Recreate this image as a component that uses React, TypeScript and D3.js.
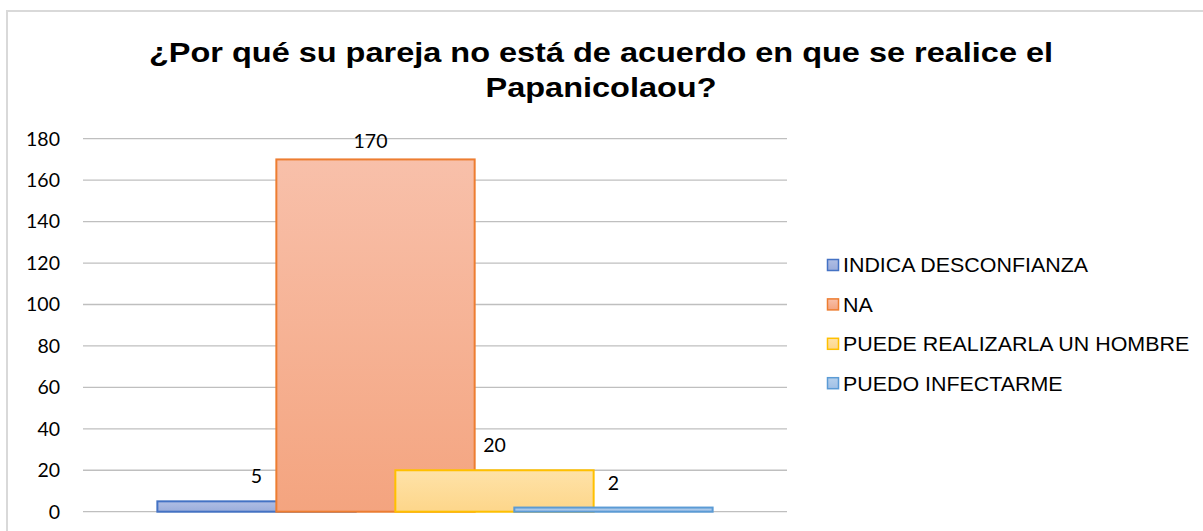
import * as d3 from "d3";
import React, { useEffect, useRef } from "react";

// chart values
const seriesNames: string[] = ["INDICA DESCONFIANZA", "NA", "PUEDE REALIZARLA UN HOMBRE", "PUEDO INFECTARME"];
const seriesValues: number[] = [5, 170, 20, 2];
const yTicks: number[] = [0, 20, 40, 60, 80, 100, 120, 140, 160, 180];
const strokeColors: string[] = ["#4472C4", "#ED7D31", "#FFC000", "#5B9BD5"];
const topColors: string[] = ["#b0bee4", "#f8c0aa", "#fee2a8", "#b6d0ec"];
const bottomColors: string[] = ["#9aacdb", "#f4a47f", "#fdd68a", "#a0c0e6"];
const titleLines: string[] = ["¿Por qué su pareja no está de acuerdo en que se realice el", "Papanicolaou?"];

const W = 1203, H = 531;

export default function App() {
    const ref = useRef<SVGSVGElement>(null);

    useEffect(() => {
        const svg = d3.select(ref.current);
        svg.selectAll("*").remove();

        // plot area
        const plot = { left: 83, right: 787, top: 138.7, bottom: 511.7 };

        const y = d3.scaleLinear().domain([0, 180]).range([plot.bottom, plot.top]);
        // one category, gap width 75%, overlap 40%
        const x = d3.scaleBand<string>().domain(["cat"]).range([plot.left, plot.right])
            .paddingInner(0).paddingOuter(0.375 / 2.8);
        const barW = x.bandwidth() / (1 + 0.6 * (seriesValues.length - 1));
        const barX = (i: number) => (x("cat") as number) + i * 0.6 * barW;

        const defs = svg.append("defs");
        seriesValues.forEach((_, i) => {
            const g = defs.append("linearGradient").attr("id", "grad" + i)
                .attr("x1", 0).attr("y1", 0).attr("x2", 0).attr("y2", 1);
            g.append("stop").attr("offset", "0%").attr("stop-color", topColors[i]);
            g.append("stop").attr("offset", "100%").attr("stop-color", bottomColors[i]);
        });

        // frame
        svg.append("rect")
            .attr("x", 7).attr("y", 11).attr("width", W + 10).attr("height", H + 10)
            .attr("fill", "white").attr("stroke", "#d9d9d9").attr("stroke-width", 2);

        // title (the source text is a bit wider than the font, so stretch it)
        svg.append("text")
            .attr("transform", "translate(601,0) scale(1.16,1)")
            .attr("text-anchor", "middle")
            .style("font-family", "'Liberation Sans', Arial, sans-serif")
            .style("font-weight", "bold")
            .style("font-size", "28px")
            .attr("fill", "#000")
            .selectAll("tspan")
            .data(titleLines)
            .enter()
            .append("tspan")
            .attr("x", 0)
            .attr("y", (d, i) => 61.7 + i * 35)
            .text(d => d);

        // gridlines
        svg.append("g")
            .selectAll("line")
            .data(yTicks)
            .enter()
            .append("line")
            .attr("x1", plot.left).attr("x2", plot.right)
            .attr("y1", d => y(d)).attr("y2", d => y(d))
            .attr("stroke", "#bfbfbf").attr("stroke-width", 1.3);

        // y tick labels
        svg.append("g")
            .selectAll("text")
            .data(yTicks)
            .enter()
            .append("text")
            .attr("x", 60)
            .attr("y", d => y(d))
            .attr("dy", "0.35em")
            .attr("text-anchor", "end")
            .style("font-family", "Lato, 'Open Sans', sans-serif")
            .style("font-size", "19.5px")
            .attr("fill", "#000")
            .text(d => d);

        // bars, later series on top
        svg.append("g")
            .selectAll("rect")
            .data(seriesValues)
            .enter()
            .append("rect")
            .attr("x", (d, i) => barX(i))
            .attr("y", d => y(d))
            .attr("width", barW)
            .attr("height", d => y(0) - y(d))
            .attr("fill", (d, i) => "url(#grad" + i + ")")
            .attr("stroke", (d, i) => strokeColors[i])
            .attr("stroke-width", 2);

        // data labels
        svg.append("g")
            .selectAll("text")
            .data(seriesValues)
            .enter()
            .append("text")
            .attr("x", (d, i) => barX(i) + barW / 2 - (y(d) - 18 < plot.top + 9.5 ? 5 : 0))
            .attr("y", d => Math.max(y(d) - 18, plot.top + 9.5))
            .attr("text-anchor", "middle")
            .style("font-family", "Lato, 'Open Sans', sans-serif")
            .style("font-size", "19.5px")
            .attr("fill", "#000")
            .text(d => d);

        // legend
        const legend = svg.append("g")
            .selectAll("g")
            .data(seriesNames)
            .enter()
            .append("g")
            .attr("transform", (d, i) => "translate(827," + (265 + i * 39.4) + ")");

        legend.append("rect")
            .attr("x", 0.5).attr("y", -5.5)
            .attr("width", 11).attr("height", 11)
            .attr("fill", (d, i) => "url(#grad" + i + ")")
            .attr("stroke", (d, i) => strokeColors[i])
            .attr("stroke-width", 1.5);

        legend.append("text")
            .attr("transform", "translate(16,0) scale(1.045,1)")
            .attr("dy", "0.36em")
            .style("font-family", "'Liberation Sans', Arial, sans-serif")
            .style("font-size", "20.5px")
            .attr("fill", "#000")
            .text(d => d);
    }, []);

    return (
        <svg ref={ref} width={W} height={H}
            style={{ position: "absolute", left: 0, top: 0, background: "white" }} />
    );
}
